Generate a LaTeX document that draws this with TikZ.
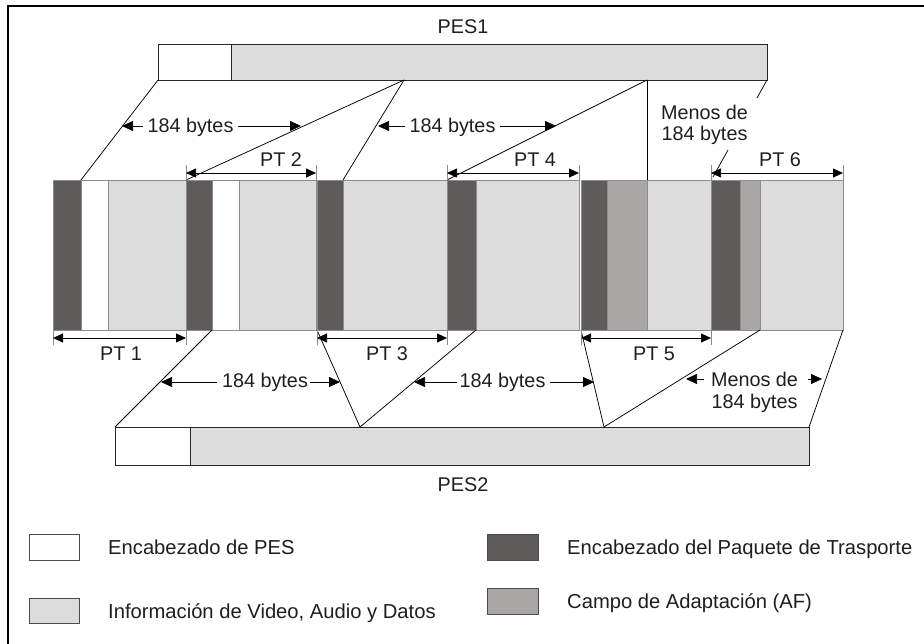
\documentclass[tikz,border=0pt]{standalone}
\usepackage{fontspec}
\setmainfont{Liberation Sans}
\usetikzlibrary{arrows.meta}
\definecolor{dkg}{HTML}{5F5B5A}
\definecolor{mdg}{HTML}{A8A7A6}
\definecolor{ltg}{HTML}{DCDCDC}
\definecolor{edg}{HTML}{8C8C8C}
\definecolor{txt}{HTML}{1E1E1E}
\begin{document}
\begin{tikzpicture}[x=1pt,y=-1pt,
  blk/.style={draw=edg,line width=0.8pt},
  pesbox/.style={draw=black!85,line width=0.9pt},
  legbox/.style={draw=black!70,line width=0.8pt},
  ln/.style={draw=black,line width=0.75pt},
  arr/.style={ln,-{Triangle[length=11pt,width=10pt]}},
  dimarr/.style={ln,{Triangle[length=10pt,width=9pt]}-{Triangle[length=10pt,width=9pt]}},
  tickln/.style={draw=edg,line width=0.8pt},
  lbl/.style={font=\fontsize{19.8}{22}\selectfont,text=txt,inner sep=0pt,anchor=base},
  leglbl/.style={font=\fontsize{20.2}{22}\selectfont,text=txt,inner sep=0pt,anchor=base west},
]
\useasboundingbox (0,0) rectangle (924,644);
% frame
\draw[line width=2pt] (8,644) -- (8,6) -- (924,6);

% ---------- PES1 ----------
\draw[pesbox,fill=white] (158,44) rectangle (231,80);
\draw[pesbox,fill=ltg] (231,44) rectangle (767,80);
\node[lbl] (pes1) at (463,34) {PES1};

% ---------- Transport packets ----------
% PT1
\draw[blk,fill=dkg] (53,180) rectangle (81,330);
\draw[blk,fill=white] (81,180) rectangle (108,330);
\draw[blk,fill=ltg] (108,180) rectangle (186,330);
% PT2
\draw[blk,fill=dkg] (186,180) rectangle (212,330);
\draw[blk,fill=white] (212,180) rectangle (239,330);
\draw[blk,fill=ltg] (239,180) rectangle (316,330);
% PT3
\draw[blk,fill=dkg] (317,180) rectangle (343,330);
\draw[blk,fill=ltg] (343,180) rectangle (447,330);
% PT4
\draw[blk,fill=dkg] (447,180) rectangle (476,330);
\draw[blk,fill=ltg] (476,180) rectangle (579,330);
% PT5
\draw[blk,fill=dkg] (581,180) rectangle (607,330);
\draw[blk,fill=mdg] (607,180) rectangle (647,330);
\draw[blk,fill=ltg] (647,180) rectangle (711,330);
% PT6
\draw[blk,fill=dkg] (711,180) rectangle (740,330);
\draw[blk,fill=mdg] (740,180) rectangle (760,330);
\draw[blk,fill=ltg] (760,180) rectangle (843,330);

% ---------- PES2 ----------
\draw[pesbox,fill=white] (115,427) rectangle (190,465);
\draw[pesbox,fill=ltg] (190,427) rectangle (809,465);
\node[lbl] (pes2) at (463,491) {PES2};

% ---------- key points ----------
\coordinate (p1a) at (158,80);
\coordinate (p1b) at (404,80);
\coordinate (p1c) at (647,80);
\coordinate (p1d) at (767,80);
\coordinate (t1) at (81,180);
\coordinate (t2) at (186,180);
\coordinate (t3) at (343,180);
\coordinate (t4) at (447,180);
\coordinate (t5) at (647,180);
\coordinate (q1) at (115,427);
\coordinate (q2) at (360,427);
\coordinate (q3) at (604,427);
\coordinate (q4) at (809,427);
\coordinate (u1) at (212,330);
\coordinate (u2) at (317,330);
\coordinate (u3) at (476,330);
\coordinate (u4) at (581,330);
\coordinate (u5) at (760,330);
\coordinate (u6) at (843,330);

% mapping lines PES1 -> packets
\draw[ln] (p1a) -- (t1);
\draw[ln] (p1b) -- (t2);
\draw[ln] (p1b) -- (t3);
\draw[ln] (p1c) -- (t4);
\draw[ln] (p1c) -- (t5);
% leader for "Menos de 184 bytes" (upper)
\coordinate (ld1) at (757,98);
\coordinate (ld2) at (728,150);
\coordinate (ld3) at (713,177);
\draw[ln] (p1d) -- (ld1);
\draw[ln] (ld2) -- (ld3);

% mapping lines packets -> PES2
\draw[ln] (u1) -- (q1);
\draw[ln] (u2) -- (q2);
\draw[ln] (u3) -- (q2);
\draw[ln] (u4) -- (q3);
\draw[ln] (u5) -- (q3);
\draw[ln] (u6) -- (q4);

% ---------- PT dimension arrows ----------
% upper
\foreach \a/\b/\n/\lx in {186/316/2/281, 447/579/4/535, 711/843/6/780}{
  \coordinate (dl\n) at (\a,173);
  \coordinate (dr\n) at (\b,173);
  \draw[tickln] (\a,165) -- (\a,180);
  \draw[tickln] (\b,165) -- (\b,180);
  \draw[dimarr] (dl\n) -- (dr\n);
  \node[lbl] (pt\n) at (\lx,167) {PT \n};
}
% lower
\foreach \a/\b/\n/\lx in {53/186/1/121, 317/447/3/387, 581/711/5/654}{
  \coordinate (dl\n) at (\a,338);
  \coordinate (dr\n) at (\b,338);
  \draw[tickln] (\a,330) -- (\a,345);
  \draw[tickln] (\b,330) -- (\b,345);
  \draw[dimarr] (dl\n) -- (dr\n);
  \node[lbl] (pt\n) at (\lx,360) {PT \n};
}

% ---------- byte labels ----------
% upper 1
\node[lbl] (ba) at (190.5,133) {184 bytes};
\coordinate (baLs) at (143,126); \coordinate (baLt) at (122,126);
\coordinate (baRs) at (238,126); \coordinate (baRt) at (301,126);
\draw[arr] (baLs) -- (baLt);
\draw[arr] (baRs) -- (baRt);
% upper 2
\node[lbl] (bb) at (452.5,133) {184 bytes};
\coordinate (bbLs) at (405,126); \coordinate (bbLt) at (378,126);
\coordinate (bbRs) at (500,126); \coordinate (bbRt) at (556,126);
\draw[arr] (bbLs) -- (bbLt);
\draw[arr] (bbRs) -- (bbRt);
% upper menos
\node[lbl] (mu1) at (704.5,120) {Menos de};
\node[lbl] (mu2) at (704.5,141) {184 bytes};
% lower 1
\node[lbl] (bc) at (265,388) {184 bytes};
\coordinate (bcLs) at (217,382); \coordinate (bcLt) at (161,382);
\coordinate (bcRs) at (310,382); \coordinate (bcRt) at (340,382);
\draw[arr] (bcLs) -- (bcLt);
\draw[arr] (bcRs) -- (bcRt);
% lower 2
\node[lbl] (bd) at (502.5,388) {184 bytes};
\coordinate (bdLs) at (457,382); \coordinate (bdLt) at (414,382);
\coordinate (bdRs) at (550,382); \coordinate (bdRt) at (594,382);
\draw[arr] (bdLs) -- (bdLt);
\draw[arr] (bdRs) -- (bdRt);
% lower menos
\node[lbl] (ml1) at (754.5,386) {Menos de};
\node[lbl] (ml2) at (754.5,408) {184 bytes};
\coordinate (mlLs) at (704,379); \coordinate (mlLt) at (686,379);
\coordinate (mlRs) at (808,379); \coordinate (mlRt) at (822,379);
\draw[arr] (mlLs) -- (mlLt);
\draw[arr] (mlRs) -- (mlRt);

% ---------- legend ----------
\draw[legbox,fill=white] (29,534) rectangle (79,560);
\node[leglbl] (lg1) at (108,554) {Encabezado de PES};
\draw[legbox,fill=ltg] (29,598) rectangle (79,623);
\node[leglbl] (lg2) at (108,618) {Información de Video, Audio y Datos};
\draw[legbox,fill=dkg] (487,534) rectangle (538,560);
\node[leglbl] (lg3) at (567,554) {Encabezado del Paquete de Trasporte};
\draw[legbox,fill=mdg] (487,588) rectangle (538,614);
\node[leglbl] (lg4) at (567,608) {Campo de Adaptación (AF)};
\end{tikzpicture}
\end{document}
